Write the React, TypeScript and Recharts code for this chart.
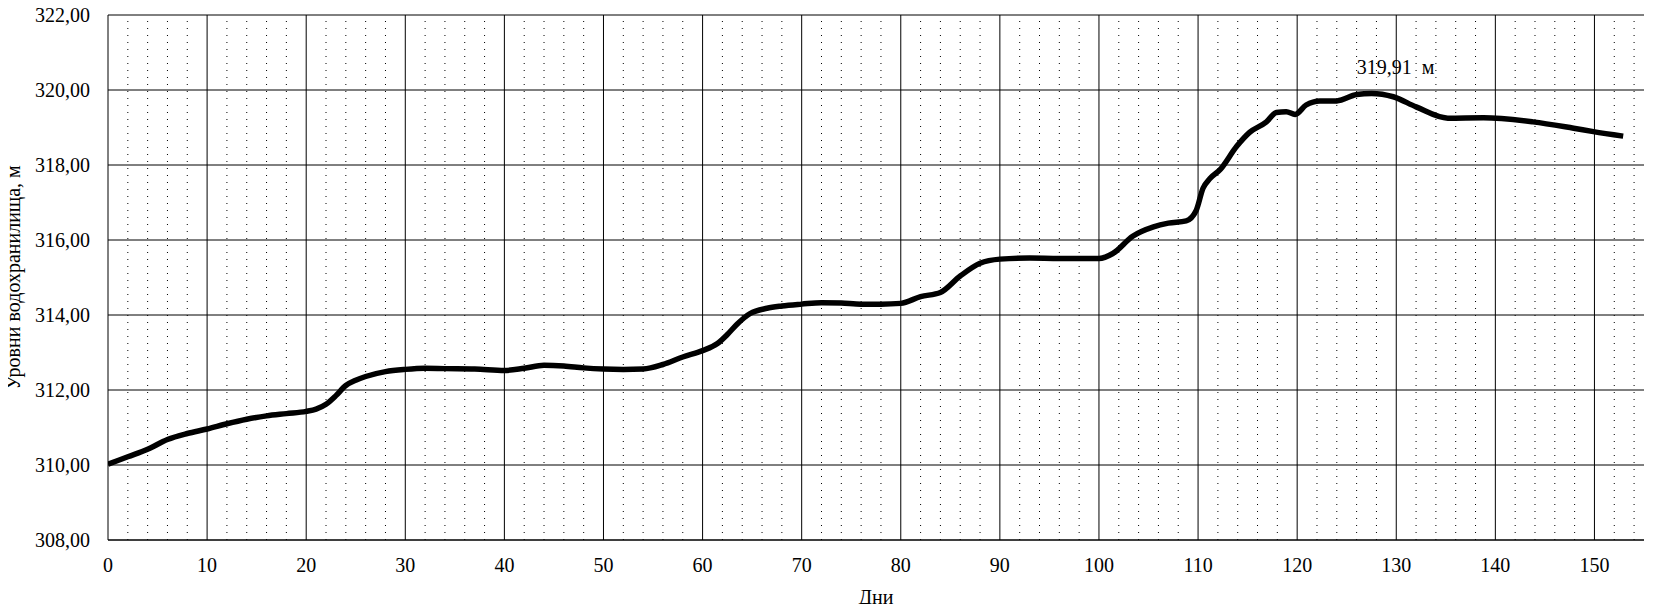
import React from 'react';
import { LineChart, Line, XAxis, YAxis, CartesianGrid, ReferenceLine, ReferenceDot, Label } from 'recharts';

const days: number[] = [0, 2, 4, 6, 8, 10, 12, 14, 16, 18, 20, 21, 22, 23, 24, 25, 26, 28, 30, 32, 34, 37, 40, 42, 44, 46, 48, 50, 52, 54, 56, 58, 60, 61.5, 62.5, 63.5, 64.8, 66.5, 68, 70, 72, 74, 76, 78, 80, 82, 84, 86, 88, 90, 93, 96, 100, 101.4, 103.4, 105.5, 107, 108.8, 109.8, 110.5, 111.2, 112.2, 113.9, 115.2, 116.9, 117.9, 118.9, 119.8, 120.9, 122.3, 124, 126, 127.5, 129.7, 132, 135.2, 138.8, 143.8, 147.9, 149.9, 152.9];
const levels: number[] = [310.02, 310.22, 310.42, 310.68, 310.84, 310.96, 311.10, 311.22, 311.31, 311.37, 311.43, 311.49, 311.62, 311.85, 312.12, 312.26, 312.36, 312.49, 312.55, 312.58, 312.57, 312.56, 312.52, 312.58, 312.66, 312.64, 312.59, 312.56, 312.55, 312.56, 312.68, 312.88, 313.05, 313.24, 313.48, 313.76, 314.04, 314.18, 314.24, 314.29, 314.33, 314.32, 314.29, 314.29, 314.31, 314.49, 314.60, 315.04, 315.38, 315.49, 315.52, 315.51, 315.51, 315.64, 316.10, 316.35, 316.45, 316.51, 316.78, 317.38, 317.64, 317.87, 318.50, 318.87, 319.15, 319.40, 319.42, 319.35, 319.60, 319.71, 319.71, 319.88, 319.91, 319.82, 319.55, 319.25, 319.26, 319.15, 318.98, 318.89, 318.77];

const xTicks: number[] = [0, 10, 20, 30, 40, 50, 60, 70, 80, 90, 100, 110, 120, 130, 140, 150];
const minorXTicks: number[] = [2, 4, 6, 8, 12, 14, 16, 18, 22, 24, 26, 28, 32, 34, 36, 38, 42, 44, 46, 48, 52, 54, 56, 58, 62, 64, 66, 68, 72, 74, 76, 78, 82, 84, 86, 88, 92, 94, 96, 98, 102, 104, 106, 108, 112, 114, 116, 118, 122, 124, 126, 128, 132, 134, 136, 138, 142, 144, 146, 148, 152, 154];
const yTicks: number[] = [308, 310, 312, 314, 316, 318, 320, 322];

const peakDay = 127.5;
const peakLevel = 319.91;
const peakText = '319,91\u00A0\u00A0м';
const xTitle = 'Дни';
const yTitle = 'Уровни водохранилища, м';

const data = days.map((d, i) => ({ day: d, level: levels[i] }));

const FONT = '"Liberation Serif", "Times New Roman", serif';

const fmtY = (v: number) => v.toFixed(2).replace('.', ',');

export default function App() {
  return (
    <div style={{ width: 1646, height: 604, margin: '-8px 0 0 -8px', overflow: 'visible' }}>
      <LineChart
        width={1646}
        height={612}
        data={data}
        margin={{ top: 15, right: 2, bottom: 0, left: 0 }}
        style={{ fontFamily: FONT }}
      >
        <CartesianGrid vertical={false} horizontal={true} stroke="#000" strokeWidth={1} horizontalValues={yTicks} />
        {minorXTicks.map((t) => (
          <ReferenceLine key={'m' + t} x={t} stroke="#000" strokeWidth={1} strokeDasharray="1 6" />
        ))}
        {xTicks.filter((t) => t !== 0).map((t) => (
          <ReferenceLine key={'M' + t} x={t} stroke="#000" strokeWidth={1} />
        ))}
        <XAxis
          dataKey="day"
          type="number"
          domain={[0, 155]}
          ticks={xTicks}
          allowDataOverflow
          height={72}
          tickLine={false}
          tickSize={0}
          tickMargin={18}
          axisLine={{ stroke: '#000', strokeWidth: 1 }}
          tick={{ fill: '#000', fontSize: 20, fontFamily: FONT }}
        >
          <Label value={xTitle} position="insideBottom" offset={8} style={{ fill: '#000', fontSize: 20, fontFamily: FONT }} />
        </XAxis>
        <YAxis
          type="number"
          domain={[308, 322]}
          ticks={yTicks}
          width={108}
          tickLine={false}
          tickSize={0}
          tickMargin={18}
          tickFormatter={fmtY}
          axisLine={{ stroke: '#000', strokeWidth: 1 }}
          tick={{ fill: '#000', fontSize: 20, fontFamily: FONT }}
        >
          <Label
            content={(props: any) => {
              const vb = props.viewBox || {};
              const cy = (vb.y || 0) + (vb.height || 0) / 2;
              const cx = 20;
              return (
                <text
                  x={cx}
                  y={cy}
                  transform={`rotate(-90, ${cx}, ${cy})`}
                  textAnchor="middle"
                  fill="#000"
                  fontSize={20}
                  fontFamily={FONT}
                >
                  {yTitle}
                </text>
              );
            }}
          />
        </YAxis>
        <Line
          type="monotone"
          dataKey="level"
          stroke="#000"
          strokeWidth={5.5}
          dot={false}
          activeDot={false}
          isAnimationActive={false}
        />
        <ReferenceDot
          x={peakDay}
          y={peakLevel}
          r={1}
          fill="none"
          stroke="none"
          label={(props: any) => {
            const vb = props.viewBox || {};
            const cx = (vb.x || 0) + (vb.width || 0) / 2;
            const cy = (vb.y || 0) + (vb.height || 0) / 2;
            return (
              <text x={cx + 24} y={cy - 19} textAnchor="middle" fill="#000" fontSize={20} fontFamily={FONT}>
                {peakText}
              </text>
            );
          }}
        />
      </LineChart>
    </div>
  );
}
